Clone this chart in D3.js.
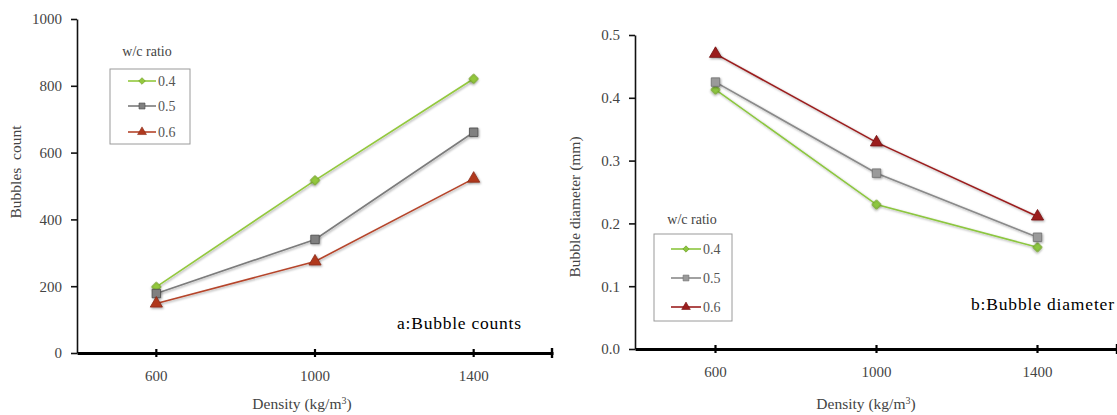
<!DOCTYPE html>
<html>
<head>
<meta charset="utf-8">
<script src="https://cdn.jsdelivr.net/npm/d3@7"></script>
<style>
  html, body { margin: 0; padding: 0; background: #fff; }
  svg { display: block; }
  svg text { font-family: "Liberation Serif", "DejaVu Serif", serif !important; }
</style>
</head>
<body>
<svg id="chart" width="1117" height="415" font-family="Liberation Serif, DejaVu Serif, serif"></svg>
<script>
// Categories and series
const densities = ["600", "1000", "1400"];
const wcRatios = ["0.4", "0.5", "0.6"];

// a: bubble counts per w/c ratio
const count04 = [198, 517, 821];
const count05 = [178, 340, 661];
const count06 = [148, 274, 522];

// b: bubble diameter (mm) per w/c ratio
const diam04 = [0.413, 0.230, 0.162];
const diam05 = [0.425, 0.280, 0.178];
const diam06 = [0.470, 0.329, 0.211];

const countTicks = [0, 200, 400, 600, 800, 1000];
const diamTicks = [0, 0.1, 0.2, 0.3, 0.4, 0.5];

const svg = d3.select("#chart");

const defs = svg.append("defs");
const shadow = defs.append("filter").attr("id", "soft").attr("x", "-50%").attr("y", "-50%").attr("width", "200%").attr("height", "200%");
shadow.append("feDropShadow").attr("dx", 1).attr("dy", 1.2).attr("stdDeviation", 1.1).attr("flood-color", "#000").attr("flood-opacity", 0.35);

// marker shapes: diamond (rotated square), square, triangle
const symbols = [d3.symbolSquare, d3.symbolSquare, d3.symbolTriangle];
const rotations = [45, 0, 0];

function panel(cfg) {
  const g = svg.append("g");
  const x = d3.scaleBand().domain(densities).range(cfg.xRange).padding(0);
  const y = d3.scaleLinear().domain(cfg.yDomain).range(cfg.yRange);
  const cx = d => x(d) + x.bandwidth() / 2;

  // y axis
  const ya = g.append("g").attr("transform", `translate(${cfg.xRange[0]},0)`)
    .call(d3.axisLeft(y).tickValues(cfg.yTicks).tickFormat(cfg.yFormat).tickSize(6).tickSizeOuter(0).tickPadding(9));
  ya.attr("font-family", null);
  ya.select(".domain").attr("stroke", "#111").attr("stroke-width", 1.6);
  ya.selectAll(".tick line").attr("stroke", "#111").attr("stroke-width", 1.6);
  ya.selectAll(".tick text").attr("font-size", 15).attr("fill", "#444");

  // x axis, ticks crossing the line at category centres
  const xa = g.append("g").attr("transform", `translate(0,${cfg.yRange[0]})`)
    .call(d3.axisBottom(x).tickSize(0).tickSizeOuter(0).tickPadding(17));
  xa.attr("font-family", null);
  xa.select(".domain").attr("stroke", "#000").attr("stroke-width", 3);
  xa.selectAll(".tick line").attr("y1", -4).attr("y2", 4).attr("stroke", "#000").attr("stroke-width", 2.2);
  xa.selectAll(".tick text").attr("font-size", 15).attr("fill", "#444");
  xa.append("line").attr("x1", cfg.xRange[1] - 1).attr("x2", cfg.xRange[1] - 1)
    .attr("y1", -5).attr("y2", 5).attr("stroke", "#000").attr("stroke-width", 2.4);

  // axis titles
  const xl = g.append("text").attr("x", cfg.xLabelX).attr("y", 409).attr("text-anchor", "middle")
    .attr("font-size", 15.5).attr("fill", "#444");
  xl.append("tspan").text("Density (kg/m");
  xl.append("tspan").attr("font-size", 10).attr("dy", -5).text("3");
  xl.append("tspan").attr("dy", 5).text(")");

  g.append("text").attr("transform", `translate(${cfg.yLabelX},${cfg.yLabelY}) rotate(-90)`)
    .attr("text-anchor", "middle").attr("font-size", 15.5).attr("fill", "#444")
    .attr("xml:space", "preserve").style("white-space", "pre").text(cfg.yLabel);

  // series
  const line = d3.line().x((d, i) => cx(densities[i])).y(d => y(d));
  cfg.series.forEach((vals, k) => {
    const s = g.append("g");
    s.append("path").datum(vals).attr("d", line).attr("fill", "none")
      .attr("stroke", cfg.colors[k]).attr("stroke-width", 1.6).attr("filter", "url(#soft)");
    s.selectAll("path.m").data(vals).join("path").attr("class", "m")
      .attr("transform", (d, i) => `translate(${cx(densities[i])},${y(d)}) rotate(${rotations[k]})`)
      .attr("d", d3.symbol().type(symbols[k]).size(cfg.markerSizes[k]))
      .attr("fill", cfg.fills[k]).attr("stroke", cfg.strokes[k]).attr("stroke-width", 0.8)
      .attr("filter", "url(#soft)");
  });

  // legend
  const L = cfg.legend;
  g.append("text").attr("x", L.titleX).attr("y", L.titleY).attr("text-anchor", "middle")
    .attr("font-size", 14).attr("fill", "#444").text("w/c ratio");
  g.append("rect").attr("x", L.x).attr("y", L.y).attr("width", L.w).attr("height", L.h)
    .attr("fill", "#fff").attr("stroke", "#9a9a9a").attr("stroke-width", 1);
  wcRatios.forEach((r, k) => {
    const yy = L.rows[k];
    g.append("line").attr("x1", L.lx1).attr("x2", L.lx2).attr("y1", yy).attr("y2", yy)
      .attr("stroke", cfg.colors[k]).attr("stroke-width", 1.6);
    g.append("path").attr("transform", `translate(${(L.lx1 + L.lx2) / 2},${yy}) rotate(${rotations[k]})`)
      .attr("d", d3.symbol().type(symbols[k]).size(cfg.legendMarkerSizes[k]))
      .attr("fill", cfg.fills[k]).attr("stroke", cfg.strokes[k]).attr("stroke-width", 0.6);
    g.append("text").attr("x", L.lx2 + 2).attr("y", yy).attr("dy", "0.35em")
      .attr("font-size", 14).attr("fill", "#555").text(r);
  });

  g.append("text").attr("x", cfg.noteX).attr("y", cfg.noteY).attr("font-size", 17.5)
    .attr("textLength", cfg.noteW).attr("lengthAdjust", "spacing")
    .attr("fill", "#000").text(cfg.note);
}

panel({
  xRange: [77, 553], yRange: [353, 19], yDomain: [0, 1000], yTicks: countTicks,
  yFormat: d3.format("d"),
  series: [count04, count05, count06],
  colors: ["#93c83e", "#7b7b7b", "#b5452b"],
  fills: ["#93c83e", "#808080", "#b0391f"],
  strokes: ["#6f9a22", "#4a4a4a", "#8a2a16"],
  markerSizes: [44, 72, 64], legendMarkerSizes: [22, 36, 34],
  xLabelX: 302, yLabelX: 21, yLabelY: 172, yLabel: "Bubbles  count",
  legend: { titleX: 147, titleY: 56, x: 110, y: 69, w: 80, h: 75, rows: [81, 106, 132], lx1: 128, lx2: 156 },
  note: "a:Bubble counts", noteX: 397, noteY: 329, noteW: 124
});

panel({
  xRange: [635, 1118], yRange: [349, 35], yDomain: [0, 0.5], yTicks: diamTicks,
  yFormat: d3.format(".1f"),
  series: [diam04, diam05, diam06],
  colors: ["#8cc63f", "#8a8a8a", "#9b1e1e"],
  fills: ["#8cc63f", "#9a9a9a", "#9b1e1e"],
  strokes: ["#6a9a22", "#6e6e6e", "#741010"],
  markerSizes: [42, 72, 64], legendMarkerSizes: [20, 34, 32],
  xLabelX: 866, yLabelX: 580, yLabelY: 207, yLabel: "Bubble diameter (mm)",
  legend: { titleX: 692, titleY: 224, x: 654, y: 234, w: 78, h: 87, rows: [249, 278, 307], lx1: 671, lx2: 701 },
  note: "b:Bubble diameter", noteX: 971, noteY: 310, noteW: 143
});
</script>
</body>
</html>
